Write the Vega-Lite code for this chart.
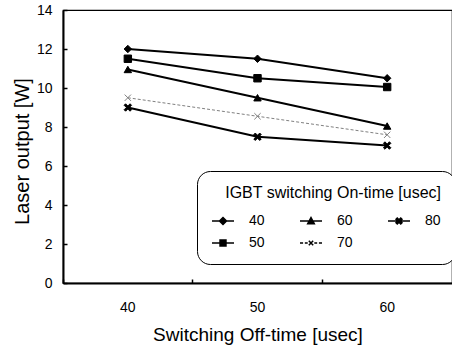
{
  "$schema": "https://vega.github.io/schema/vega-lite/v6.json",
  "width": 389,
  "height": 273,
  "autosize": "none",
  "padding": {"left": 63, "top": 10, "right": 0, "bottom": 62},
  "background": "white",
  "config": {
    "font": "Liberation Sans",
    "view": {"stroke": "black", "strokeWidth": 1.2},
    "axis": {
      "domainColor": "black",
      "domainWidth": 2,
      "tickColor": "black",
      "tickWidth": 1.5,
      "labelColor": "black",
      "titleColor": "black",
      "labelFont": "Liberation Sans",
      "titleFont": "Liberation Sans",
      "titleFontWeight": "normal",
      "labelFontSize": 14,
      "titleFontSize": 19,
      "grid": false
    }
  },
  "data": {
    "values": [
      {"off": "40", "on": "40", "w": 12.0},
      {"off": "50", "on": "40", "w": 11.5},
      {"off": "60", "on": "40", "w": 10.5},
      {"off": "40", "on": "50", "w": 11.5},
      {"off": "50", "on": "50", "w": 10.5},
      {"off": "60", "on": "50", "w": 10.05},
      {"off": "40", "on": "60", "w": 10.95},
      {"off": "50", "on": "60", "w": 9.5},
      {"off": "60", "on": "60", "w": 8.05},
      {"off": "40", "on": "70", "w": 9.5},
      {"off": "50", "on": "70", "w": 8.55},
      {"off": "60", "on": "70", "w": 7.6},
      {"off": "40", "on": "80", "w": 9.0},
      {"off": "50", "on": "80", "w": 7.5},
      {"off": "60", "on": "80", "w": 7.05}
    ]
  },
  "encoding": {
    "x": {
      "field": "off",
      "type": "ordinal",
      "bandPosition": 0.5,
      "scale": {"type": "band", "paddingInner": 0, "paddingOuter": 0},
      "axis": {
        "title": "Switching Off-time [usec]",
        "labelAngle": 0,
        "bandPosition": 0,
        "tickSize": -4,
        "labelPadding": 21,
        "titlePadding": 11
      }
    },
    "y": {
      "field": "w",
      "type": "quantitative",
      "scale": {"domain": [0, 14], "nice": false},
      "axis": {
        "title": "Laser output [W]",
        "titleFontSize": 20,
        "titleY": 141,
        "values": [0, 2, 4, 6, 8, 10, 12, 14],
        "tickSize": -4,
        "labelPadding": 15,
        "titlePadding": 4
      }
    }
  },
  "layer": [
    {
      "transform": [{"filter": "datum.on !== '70'"}],
      "mark": {"type": "line", "color": "black", "strokeWidth": 2},
      "encoding": {"detail": {"field": "on", "type": "nominal"}}
    },
    {
      "transform": [{"filter": "datum.on === '70'"}],
      "mark": {"type": "line", "color": "#808080", "strokeWidth": 1, "strokeDash": [3, 2]},
      "encoding": {}
    },
    {
      "transform": [{"filter": "datum.on !== '70'"}],
      "mark": {"type": "point", "filled": true, "color": "black", "stroke": "black", "strokeWidth": 1, "size": 55, "opacity": 1},
      "encoding": {
        "shape": {
          "field": "on",
          "type": "nominal",
          "scale": {
            "domain": ["40", "50", "60", "80"],
            "range": ["diamond", "square", "triangle-up", "M-1,-0.6L-0.6,-1L0,-0.4L0.6,-1L1,-0.6L0.4,0L1,0.6L0.6,1L0,0.4L-0.6,1L-1,0.6L-0.4,0Z"]
          },
          "legend": null
        }
      }
    },
    {
      "transform": [{"filter": "datum.on === '70'"}],
      "mark": {"type": "point", "filled": false, "color": "#808080", "strokeWidth": 1, "size": 40, "shape": "M-1,-1L1,1M-1,1L1,-1", "opacity": 1},
      "encoding": {}
    },
    {
      "transform": [{"filter": "false"}],
      "mark": {"type": "point", "filled": true, "color": "black", "stroke": "black", "strokeWidth": 2, "opacity": 1},
      "encoding": {
        "shape": {
          "field": "on",
          "type": "nominal",
          "scale": {
            "domain": ["40", "60", "80", "50", "70"],
            "range": [
              "M-1,0H1M0,-0.32L0.32,0L0,0.32L-0.32,0Z",
              "M-1,0H1M0,-0.32L0.3,0.24L-0.3,0.24Z",
              "M-1,0H1M-0.27,-0.16L-0.16,-0.27L0,-0.11L0.16,-0.27L0.27,-0.16L0.11,0L0.27,0.16L0.16,0.27L0,0.11L-0.16,0.27L-0.27,0.16L-0.11,0Z",
              "M-1,0H1M-0.27,-0.27H0.27V0.27H-0.27Z",
              "M-1,0H-0.72M-0.56,0H-0.3M0.3,0H0.56M0.72,0H1M-0.2,-0.2L0.2,0.2M-0.2,0.2L0.2,-0.2"
            ]
          },
          "legend": {
            "title": "IGBT switching On-time [usec]",
            "orient": "none",
            "legendX": 134,
            "legendY": 161,
            "columns": 3,
            "direction": "horizontal",
            "titleFontSize": 16,
            "titleFontWeight": "normal",
            "titleColor": "black",
            "titleFont": "Liberation Sans",
            "titleLimit": 400,
            "titlePadding": 8,
            "titleAnchor": "end",
            "labelFontSize": 14,
            "labelColor": "black",
            "labelFont": "Liberation Sans",
            "labelOffset": 14,
            "symbolSize": 484,
            "columnPadding": 32,
            "rowPadding": 3,
            "padding": 14,
            "strokeColor": "black",
            "cornerRadius": 13,
            "fillColor": "white",
            "encode": {
              "symbols": {
                "stroke": {"condition": {"test": "datum.value === '70'", "value": "#808080"}, "value": "black"},
                "strokeWidth": {"condition": {"test": "datum.value === '70'", "value": 1}, "value": 2}
              },
              "legend": {"strokeWidth": {"value": 1.5}}
            }
          }
        }
      }
    }
  ],
  "resolve": {"scale": {"shape": "independent"}, "legend": {"shape": "independent"}}
}
